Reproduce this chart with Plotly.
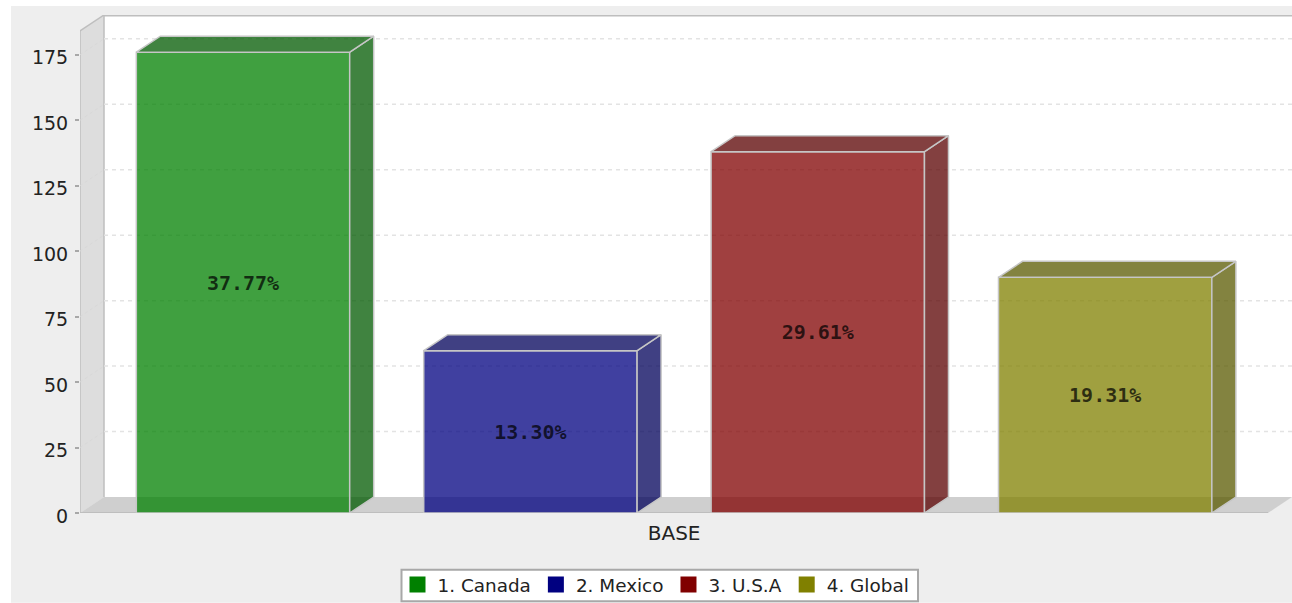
import plotly.graph_objects as go

# ---- data ----
CATEGORY = ["BASE"]
SERIES = ["1. Canada", "2. Mexico", "3. U.S.A", "4. Global"]
VALUES = [176, 62, 138, 90]
LABELS = ["37.77%", "13.30%", "29.61%", "19.31%"]
Y_TICKS = [0, 25, 50, 75, 100, 125, 150, 175]
BASE_COLORS = [(0, 128, 0), (0, 0, 128), (128, 0, 0), (128, 128, 0)]

# ---- layout constants ----
W, H = 1292, 603
PX_PER_X = 1190.0        # pixels per x-axis unit
PX_PER_Y = 2.62          # pixels per value
X0_PX, Y0_PX = 674.1, 513.3
LEFT_PX, RIGHT_PX, TOP_PX = 80.0, 1292.0, 15.0
DX = 24 / PX_PER_X       # depth offset of the pseudo-3D look
DY = 16 / PX_PER_Y
BARGAP, GROUPGAP = 0.034, 0.2575
ALPHA = 0.75
EDGE = "rgb(198,198,198)"

x_lo = (LEFT_PX - X0_PX) / PX_PER_X
x_hi = (RIGHT_PX - X0_PX) / PX_PER_X
y_hi = (Y0_PX - TOP_PX) / PX_PER_Y
x_front_r = x_hi - DX
plot_h = Y0_PX - TOP_PX
plot_w = RIGHT_PX - LEFT_PX


def poly(xs, ys, fill):
    path = "M" + "L".join(f"{a},{b}" for a, b in zip(xs, ys)) + "Z"
    return dict(type="path", path=path, xref="x", yref="y", layer="below", fillcolor=fill,
                line=dict(color="rgba(0,0,0,0)", width=0))


shapes = [
    # chart background
    dict(type="rect", xref="paper", yref="paper", layer="below",
         x0=(11 - LEFT_PX) / plot_w, x1=1,
         y0=(Y0_PX - H) / plot_h, y1=(Y0_PX - 6) / plot_h,
         fillcolor="#EEEEEE", line=dict(width=0)),
    # back wall
    poly([x_lo + DX, x_hi, x_hi, x_lo + DX], [DY, DY, y_hi, y_hi], "white"),
    # left wall
    poly([x_lo, x_lo + DX, x_lo + DX, x_lo], [0, DY, y_hi, y_hi - DY], "#DDDDDD"),
    # floor
    poly([x_lo, x_lo + DX, x_hi, x_front_r], [0, DY, DY, 0], "#CFCFCF"),
    # legend frame
    dict(type="rect", xref="paper", yref="paper", layer="above",
         x0=(401.5 - LEFT_PX) / plot_w, x1=(918 - LEFT_PX) / plot_w,
         y0=(Y0_PX - 601.5) / plot_h, y1=(Y0_PX - 570) / plot_h,
         fillcolor="white", line=dict(color="#A8A8A8", width=2)),
]
# wall outline
for xs, ys, w_ in [
    ([x_lo + DX, x_hi], [y_hi, y_hi], 3),
    ([x_lo + DX, x_lo + DX], [DY, y_hi], 1.5),
    ([x_lo, x_lo + DX], [y_hi - DY, y_hi], 1.5),
    ([x_lo, x_lo], [0, y_hi - DY], 1.5),
    ([x_lo, x_front_r], [0, 0], 2),
]:
    shapes.append(dict(type="line", xref="x", yref="y", layer="below",
                       x0=xs[0], x1=xs[1], y0=ys[0], y1=ys[1],
                       line=dict(color="#BEBEBE", width=w_)))
# dashed grid running up the side wall and along the back wall
for t in Y_TICKS[1:]:
    shapes.append(dict(type="line", xref="x", yref="y", layer="below",
                       x0=x_lo, x1=x_lo + DX, y0=t, y1=t + DY,
                       line=dict(color="#D8D8D8", width=1, dash="3px,3px")))
    shapes.append(dict(type="line", xref="x", yref="y", layer="below",
                       x0=x_lo + DX, x1=x_hi, y0=t + DY, y1=t + DY,
                       line=dict(color="#E3E3E3", width=1.5, dash="4px,4px")))

fig = go.Figure()
slot = (1 - BARGAP) / len(VALUES)
bar_w = slot * (1 - GROUPGAP)

for i, (name, v, lab, c) in enumerate(zip(SERIES, VALUES, LABELS, BASE_COLORS)):
    fig.add_trace(go.Bar(
        x=[0], y=[v], name=name, showlegend=False, hoverinfo="skip",
        marker=dict(color=f"rgba({c[0]},{c[1]},{c[2]},{ALPHA})", line=dict(color=EDGE, width=1.5)),
        text=[lab], textposition="inside", insidetextanchor="middle", textangle=0,
        textfont=dict(family="DejaVu Sans Mono", size=20, weight="bold", color="rgba(0,0,0,0.72)"),
        constraintext="none",
    ))

for i, (v, c) in enumerate(zip(VALUES, BASE_COLORS)):
    centre = -0.5 * (1 - BARGAP) + slot * (i + 0.5)
    l_, r_ = centre - bar_w / 2, centre + bar_w / 2
    dark = f"rgba({int(c[0]*.7)},{int(c[1]*.7)},{int(c[2]*.7)},{ALPHA})"
    fig.add_trace(go.Scatter(x=[r_, r_ + DX, r_ + DX, r_, r_], y=[0, DY, v + DY, v, 0],
                             mode="lines", fill="toself", fillcolor=dark,
                             line=dict(color=EDGE, width=1.5), showlegend=False, hoverinfo="skip"))
    fig.add_trace(go.Scatter(x=[l_, l_ + DX, r_ + DX, r_, l_], y=[v, v + DY, v + DY, v, v],
                             mode="lines", fill="toself", fillcolor=dark,
                             line=dict(color=EDGE, width=1.5), showlegend=False, hoverinfo="skip"))

# opaque legend swatches
for name, c in zip(SERIES, BASE_COLORS):
    fig.add_trace(go.Scatter(x=[None], y=[None], name=name, mode="markers",
                             marker=dict(symbol="square", size=16, color=f"rgb({c[0]},{c[1]},{c[2]})")))

fig.update_layout(
    width=W, height=H, autosize=False,
    margin=dict(l=LEFT_PX, r=W - RIGHT_PX, t=TOP_PX, b=H - Y0_PX, pad=0),
    paper_bgcolor="white", plot_bgcolor="rgba(0,0,0,0)",
    barmode="group", bargap=BARGAP, bargroupgap=GROUPGAP,
    shapes=shapes,
    font=dict(family="DejaVu Sans", size=19, color="#222222"),
    showlegend=True,
    legend=dict(orientation="h", x=(656 - LEFT_PX) / plot_w, xanchor="center",
                y=(Y0_PX - 603.5) / plot_h, yanchor="bottom",
                bgcolor="rgba(0,0,0,0)", borderwidth=0,
                font=dict(family="DejaVu Sans", size=18.4, color="#222222"),
                itemwidth=30, tracegroupgap=0),
    xaxis=dict(range=[x_lo, x_hi], tickmode="array", tickvals=[0], ticktext=CATEGORY,
               showgrid=False, zeroline=False, showline=False, ticks="outside", ticklen=2,
               tickcolor="rgba(0,0,0,0)", tickfont=dict(family="DejaVu Sans", size=20, color="#222222"),
               fixedrange=True),
    yaxis=dict(range=[0, y_hi], tickmode="array", tickvals=Y_TICKS,
               showgrid=False, zeroline=False, showline=False, ticks="outside", ticklen=4, tickwidth=1.5,
               tickcolor="#A8A8A8", ticklabelstandoff=3, ticklabelshift=3,
               tickfont=dict(family="DejaVu Sans", size=19, color="#222222"),
               fixedrange=True),
)

fig.write_html("out.html", config={"displayModeBar": False},
               post_script="document.body.style.margin='0';document.body.style.overflow='hidden';")
